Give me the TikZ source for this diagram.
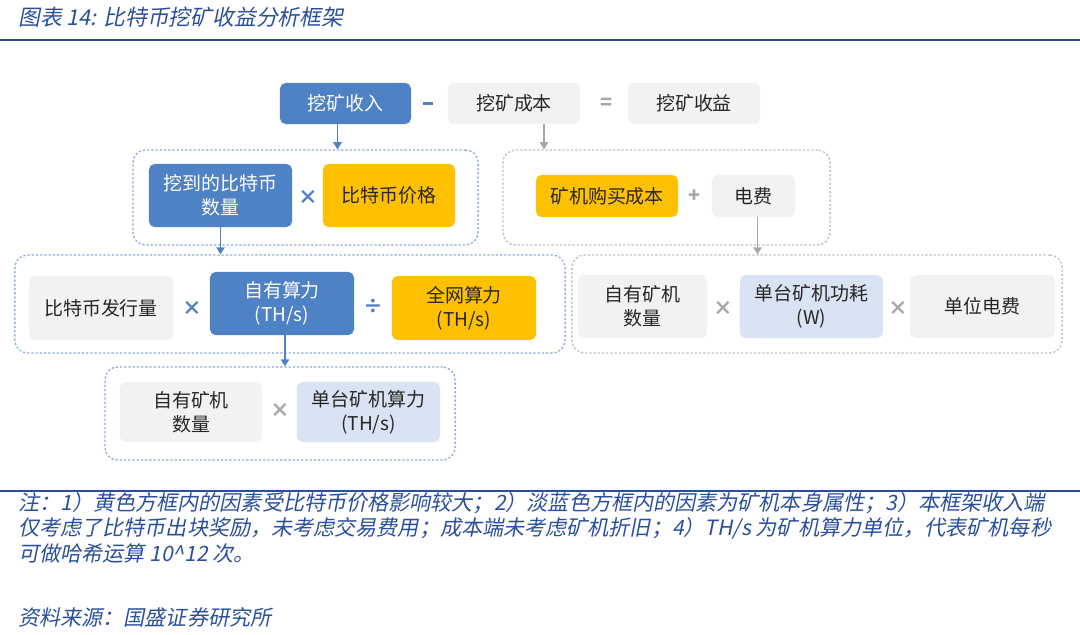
\documentclass[tikz,border=0pt]{standalone}
\usepackage{fontspec}
\setmainfont{Noto Sans CJK SC}
\newfontfamily\noteit[FakeSlant=0.2]{Noto Sans CJK SC}
\usetikzlibrary{arrows.meta,calc}
\definecolor{boxblue}{HTML}{4F81C5}
\definecolor{boxyellow}{HTML}{FFC000}
\definecolor{boxgray}{HTML}{F2F2F2}
\definecolor{boxpale}{HTML}{DAE3F3}
\definecolor{lineblue}{HTML}{2A4F9C}
\definecolor{dotblue}{HTML}{8EA9DB}
\definecolor{dotgray}{HTML}{BFBFBF}
\definecolor{opgray}{HTML}{A6A6A6}
\tikzset{
  box/.style={rounded corners=4pt,inner sep=0pt,align=center,text=black!85,
    font=\fontsize{13.5}{17}\selectfont},
  bluebox/.style={box,fill=boxblue,text=white},
  yellowbox/.style={box,fill=boxyellow},
  graybox/.style={box,fill=boxgray},
  palebox/.style={box,fill=boxpale},
  bluegroup/.style={draw=dotblue,dotted,line width=1pt,rounded corners=9pt},
  graygroup/.style={draw=dotgray,dotted,line width=1pt,rounded corners=9pt},
  blueop/.style={text=boxblue,inner sep=0pt,font=\fontsize{14}{14}\selectfont\bfseries},
  grayop/.style={text=opgray,inner sep=0pt,font=\fontsize{14}{14}\selectfont\bfseries},
  bluearrow/.style={draw=boxblue,line width=1.4pt,-{Triangle[length=5pt,width=6pt]}},
  grayarrow/.style={draw=opgray,line width=1.4pt,-{Triangle[length=5pt,width=6pt]}},
  notetext/.style={anchor=west,inner sep=0pt,text=lineblue,
    font=\noteit\fontsize{15}{15}\selectfont},
  every picture/.style={line cap=round,line join=round}
}

\begin{document}
\begin{tikzpicture}[x=0.025cm,y=-0.025cm]
  \useasboundingbox (0,0) rectangle (1080,635);
  % title
  \node[notetext,font=\noteit\fontsize{15.5}{15.5}\selectfont] (title) at (18,17) {图表 14: 比特币挖矿收益分析框架};
  \draw[lineblue,line width=1.5pt] (0,40) -- (1080,40);

  % top row
  \node[bluebox,minimum width=3.275cm,minimum height=1.025cm] (inc) at (345.5,103.5) {挖矿收入};
  \node[blueop] (minus) at (428,103.5) {\rule{7pt}{2.6pt}};
  \node[graybox,minimum width=3.3cm,minimum height=1.025cm] (cost) at (514,103.5) {挖矿成本};
  \node[grayop] (eq) at (606,103.5) {=};
  \node[graybox,minimum width=3.3cm,minimum height=1.025cm] (prof) at (694,103.5) {挖矿收益};

  % groups
  \node[bluegroup,minimum width=8.625cm,minimum height=2.375cm] (g1) at (305.5,197.5) {};
  \node[graygroup,minimum width=8.175cm,minimum height=2.375cm] (g2) at (666.5,197.5) {};
  \node[bluegroup,minimum width=13.75cm,minimum height=2.45cm] (g3) at (290,304) {};
  \node[graygroup,minimum width=12.25cm,minimum height=2.45cm] (g4) at (817,304) {};
  \node[bluegroup,minimum width=8.75cm,minimum height=2.325cm] (g5) at (280,413.5) {};

  % revenue side
  \node[bluebox,minimum width=3.575cm,minimum height=1.575cm] (coin) at (220.5,195.5) {挖到的比特币\\数量};
  \node[blueop] (times1) at (308,197) {×};
  \node[yellowbox,minimum width=3.3cm,minimum height=1.575cm] (price) at (389,195.5) {比特币价格};

  % cost side
  \node[yellowbox,minimum width=3.55cm,minimum height=1.05cm] (rig) at (607,196) {矿机购买成本};
  \node[grayop] (plus) at (694,196) {+};
  \node[graybox,minimum width=2.075cm,minimum height=1.05cm] (elec) at (753.5,196) {电费};

  % hash rate share
  \node[graybox,minimum width=3.6cm,minimum height=1.6cm] (issue) at (101,308) {比特币发行量};
  \node[blueop] (times2) at (192,308) {×};
  \node[bluebox,minimum width=3.6cm,minimum height=1.575cm] (own) at (282,303.5) {自有算力\\(TH/s)};
  \node[blueop] (divide) at (373,306) {÷};
  \node[yellowbox,minimum width=3.6cm,minimum height=1.6cm] (net) at (464,308) {全网算力\\(TH/s)};

  % power cost
  \node[graybox,minimum width=3.225cm,minimum height=1.575cm] (num1) at (642.5,306.5) {自有矿机\\数量};
  \node[grayop] (times3) at (723,308) {×};
  \node[palebox,minimum width=3.575cm,minimum height=1.575cm] (power) at (811.5,306.5) {单台矿机功耗\\(W)};
  \node[grayop] (times4) at (898,308) {×};
  \node[graybox,minimum width=3.625cm,minimum height=1.575cm] (fee) at (982.5,306.5) {单位电费};

  % own hash rate
  \node[graybox,minimum width=3.55cm,minimum height=1.5cm] (num2) at (191,412) {自有矿机\\数量};
  \node[grayop] (times5) at (280,410) {×};
  \node[palebox,minimum width=3.575cm,minimum height=1.5cm] (hash) at (368.5,412) {单台矿机算力\\(TH/s)};

  % arrows
  \coordinate (incfoot) at ($(inc.south)+(-8,0)$);
  \coordinate (costfoot) at ($(cost.south)+(30,0)$);
  \coordinate (elecfoot) at ($(elec.south)+(4,0)$);
  \coordinate (ownfoot) at ($(own.south)+(3,0)$);
  \draw[bluearrow] (incfoot) -- (incfoot |- g1.north);
  \draw[grayarrow] (costfoot) -- (costfoot |- g2.north);
  \draw[bluearrow] (coin.south) -- (coin.south |- g3.north);
  \draw[grayarrow] (elecfoot) -- (elecfoot |- g4.north);
  \draw[bluearrow] (ownfoot) -- (ownfoot |- g5.north);

  % notes
  \draw[lineblue,line width=1.5pt] (0,491) -- (1080,491);
  \node[notetext] (note1) at (18,503) {注：1）黄色方框内的因素受比特币价格影响较大；2）淡蓝色方框内的因素为矿机本身属性；3）本框架收入端};
  \node[notetext] (note2) at (18,528) {仅考虑了比特币出块奖励，未考虑交易费用；成本端未考虑矿机折旧；4）TH/s 为矿机算力单位，代表矿机每秒};
  \node[notetext] (note3) at (18,553) {可做哈希运算 10\^{}12 次。};
  \node[notetext] (source) at (18,617) {资料来源：国盛证券研究所};
\end{tikzpicture}
\end{document}
